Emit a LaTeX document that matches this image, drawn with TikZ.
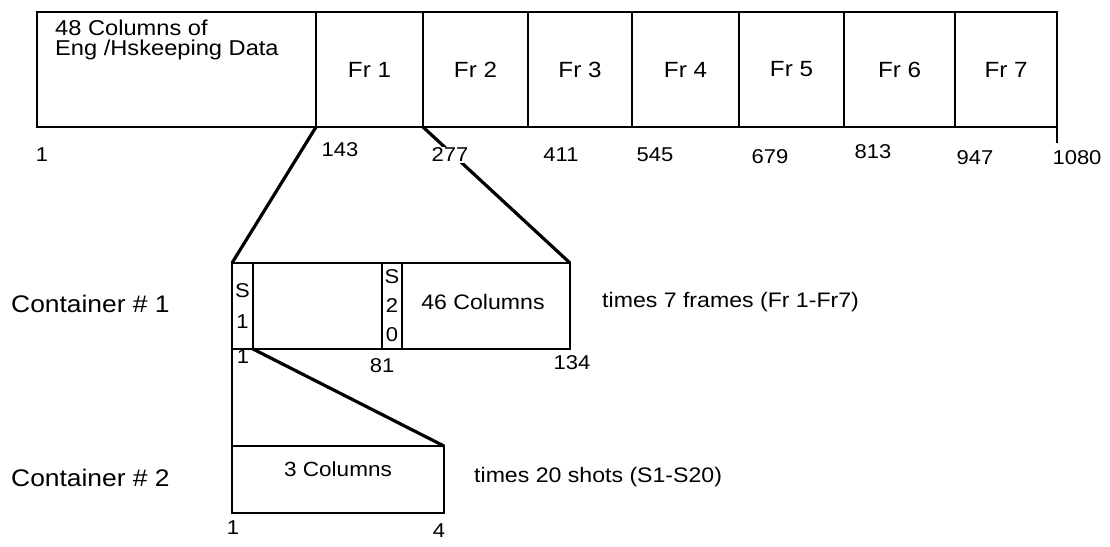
\documentclass[tikz,border=0pt]{standalone}
\usepackage{fontspec}
\setmainfont{Liberation Sans}[FakeStretch=1.1]
\usepackage{tikz}

\begin{document}
\begin{tikzpicture}[
        x=1pt, y=1pt,
        cell/.style={draw, line width=1.7pt, inner sep=0pt, outer sep=0pt, minimum height=115pt},
        slot/.style={draw, line width=1.5pt, inner sep=0pt, outer sep=0pt},
        zoom/.style={line width=3.2pt},
        txt/.style={font=\fontsize{21}{20}\selectfont, inner sep=0pt},
        num/.style={font=\fontsize{20}{24}\selectfont, inner sep=1pt},
        frlab/.style={font=\fontsize{22}{26}\selectfont},
        side/.style={font=\fontsize{24}{28}\selectfont, anchor=west, inner sep=0pt}
    ]
    \useasboundingbox (0,0) rectangle (1110,-546);

    % Frame row
    \node[cell, minimum width=279pt] (eng) at (176.5,-69.5) {};
    \node[txt, font=\fontsize{21.5}{20}\selectfont, anchor=north west, align=left] (engtxt) at ([shift={(18,-8)}]eng.north west)
        {48 Columns of\\Eng /Hskeeping Data};
    \foreach \i/\l/\r in {1/316/423, 2/423/528, 3/528/632, 4/632/739, 5/739/844, 6/844/955, 7/955/1057} {
        \node[cell, frlab, minimum width={(\r-\l)*1pt}] (fr\i) at ({(\l+\r)/2},-69.5) {Fr \i};
    }
    \draw[line width=1.7pt] (fr7.south east) -- ++(0,-16);

    % Container 1
    \node[slot, minimum width=338pt, minimum height=86pt] (cont1) at (401,-306) {};
    \node[slot, minimum width=21pt, minimum height=86pt, font=\fontsize{20}{31}\selectfont, align=center] (s1) at (242.5,-306) {S\\1};
    \node[slot, minimum width=20pt, minimum height=86pt, font=\fontsize{20}{29}\selectfont, align=center] (s20) at (392,-306) {S\\2\\0};
    \node[txt] (c1txt) at (483,-302) {46 Columns};

    % Container 2
    \node[slot, minimum width=212pt, minimum height=67pt] (cont2) at (338,-479.5) {};
    \node[txt, font=\fontsize{20.5}{24}\selectfont] (c2txt) at ([yshift=10]cont2.center) {3 Columns};

    % Zoom lines
    \draw[zoom] (fr1.south west) -- (cont1.north west);
    \draw[zoom] (fr1.south east) -- (cont1.north east);
    \draw[zoom] (s1.south east) -- (cont2.north east);
    \draw[line width=1.7pt] (cont1.south west) -- (cont2.north west);

    % Column numbers
    \foreach \v/\x/\y in {1/42/155, 143/340/150, 411/561/155, 545/655/155, 679/770/157, 813/873/152, 947/975/158, 1080/1077/158} {
        \node[num] (top\v) at (\x,-\y) {\v};
    }
    \node[num, fill=white] (top277) at (450,-155) {277};
    \node[num] (c1first) at (243,-357) {1};
    \node[num] (c1mid) at (382,-366) {81};
    \node[num] (c1last) at (572,-363) {134};
    \node[num] (c2first) at (233,-528) {1};
    \node[num] (c2last) at (439,-531) {4};

    % Side labels
    \node[side] (lab1) at (11,-304) {Container \# 1};
    \node[side] (lab2) at (11,-478) {Container \# 2};
    \node[txt] (rep1) [anchor=west] at (602,-302) {times 7 frames (Fr 1-Fr7)};
    \node[txt] (rep2) [anchor=west] at (474,-477) {times 20 shots (S1-S20)};
\end{tikzpicture}
\end{document}
